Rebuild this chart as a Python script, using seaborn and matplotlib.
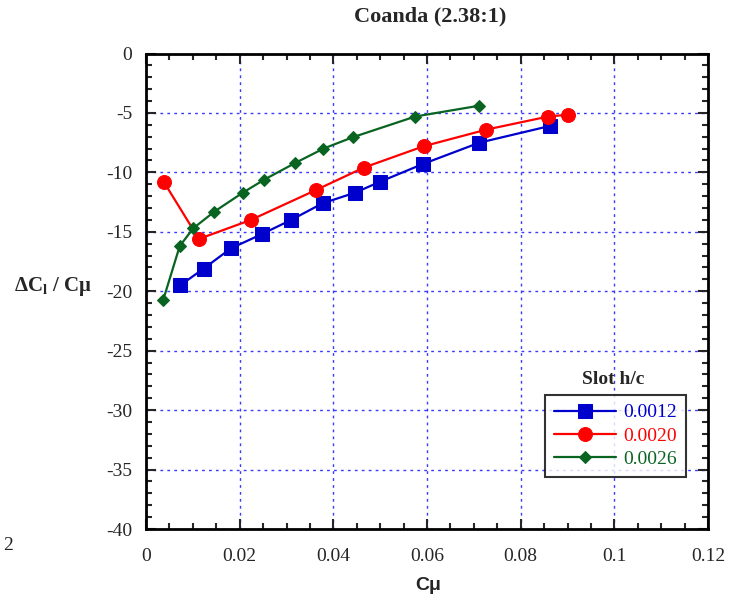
import numpy as np
import pandas as pd
import matplotlib
matplotlib.use("Agg")

import matplotlib.pyplot as plt
import seaborn as sns

# Data
cmu_0012 = [0.0073, 0.0123, 0.0181, 0.0247, 0.0310, 0.0377, 0.0447, 0.0499, 0.0591, 0.0712, 0.0862]
dcl_0012 = [-19.5, -18.1, -16.4, -15.2, -14.0, -12.6, -11.7, -10.8, -9.3, -7.5, -6.1]

cmu_0020 = [0.0038, 0.0113, 0.0224, 0.0362, 0.0465, 0.0593, 0.0727, 0.0859, 0.0901]
dcl_0020 = [-10.8, -15.6, -14.0, -11.5, -9.6, -7.8, -6.4, -5.3, -5.15]

cmu_0026 = [0.0037, 0.0072, 0.0101, 0.0146, 0.0207, 0.0253, 0.0319, 0.0379, 0.0441, 0.0575, 0.0710]
dcl_0026 = [-20.7, -16.2, -14.7, -13.3, -11.7, -10.6, -9.2, -8.0, -7.05, -5.3, -4.4]

labels = ["0.0012", "0.0020", "0.0026"]

sns.set_style("ticks")
plt.rcParams["font.family"] = ["Liberation Serif", "DejaVu Serif"]
plt.rcParams["axes.unicode_minus"] = False
plt.rcParams["mathtext.fontset"] = "custom"
plt.rcParams["mathtext.rm"] = "Liberation Serif:bold"
plt.rcParams["mathtext.it"] = "Liberation Serif:bold"
plt.rcParams["mathtext.bf"] = "Liberation Serif:bold"

fig = plt.figure(figsize=(7.43, 6.05), dpi=100)
ax = fig.add_axes([146 / 743, 1 - 529 / 605, 562 / 743, 475.5 / 605])

series = [
    (cmu_0012, dcl_0012, labels[0], "#0000cc", "s", 10),
    (cmu_0020, dcl_0020, labels[1], "#ff0000", "o", 10),
    (cmu_0026, dcl_0026, labels[2], "#0a6421", "D", 6.5),
]

for xs, ys, lab, col, mk, ms in series:
    df = pd.DataFrame({"x": xs, "y": ys})
    sns.lineplot(
        data=df,
        x="x",
        y="y",
        sort=False,
        color=col,
        marker=mk,
        markersize=ms,
        markeredgecolor=col,
        linewidth=1.6,
        label=lab,
        ax=ax
    )

ax.set_xlim(0, 0.12)
ax.set_ylim(-40, 0)
ax.set_xticks(np.arange(0, 0.121, 0.02))
ax.set_xticklabels(["0", "0.02", "0.04", "0.06", "0.08", "0.1", "0.12"])
ax.set_xticks(np.arange(0, 0.121, 0.005), minor=True)
ax.set_yticks(np.arange(-40, 1, 5))
ax.set_yticks(np.arange(-40, 1, 1), minor=True)

ax.grid(True, which="major", color="#3a3aff", linestyle=(0, (2, 3)), linewidth=1)
ax.set_axisbelow(True)

for s in ax.spines.values():
    s.set_linewidth(2)
    s.set_color("black")

ax.tick_params(axis="both", which="both", direction="in",
               top=True, right=True, width=1.5, labelsize=14)
ax.tick_params(axis="x", which="both", pad=14)
ax.tick_params(axis="y", which="both", pad=10)
ax.tick_params(which="major", length=7)
ax.tick_params(which="minor", length=4)

ax.set_xlabel("")
ax.set_ylabel("")

fig.text(430 / 743, 1 - 16 / 605, "Coanda (2.38:1)", ha="center", va="center",
         fontsize=16, fontweight="bold")
fig.text(428 / 743, 1 - 586 / 605, "Cμ", ha="center", va="center",
         fontsize=14, fontweight="bold", family="Liberation Sans")
fig.text(53 / 743, 1 - 287 / 605, r"$\Delta$C$_{\mathrm{l}}$ / Cμ", ha="center",
         va="center", fontsize=15, fontweight="bold")
fig.text(8 / 743, 1 - 545 / 605, "2", ha="center", va="center", fontsize=14)

leg = ax.legend(
    loc="upper left",
    bbox_to_anchor=((545 - 146) / 562, 1 - (395 - 53.5) / 475.5),
    handlelength=3.2,
    fontsize=14,
    frameon=True,
    fancybox=False,
    borderpad=0.45,
    labelspacing=0.3,
    handletextpad=0.4,
    borderaxespad=0
)
leg.get_frame().set_edgecolor("black")
leg.get_frame().set_linewidth(1.5)
for t, (_, _, _, col, _, _) in zip(leg.get_texts(), series):
    t.set_color(col)

fig.text(613 / 743, 1 - 380 / 605, "Slot h/c", ha="center", va="center",
         fontsize=14, fontweight="bold")

plt.savefig("out.png", dpi=100)
